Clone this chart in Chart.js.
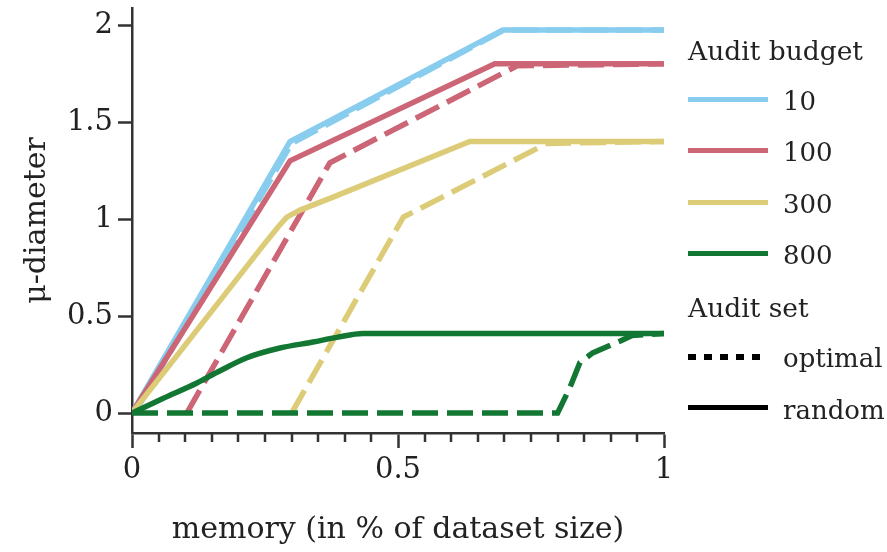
<!DOCTYPE html>
<html lang="en">

<head>
    <meta charset="utf-8">
    <title>mu-diameter vs memory</title>
    <script src="https://cdn.jsdelivr.net/npm/chart.js"></script>
    <style>
        body {
            margin: 0;
            background: #fff;
        }

        #wrap {
            position: relative;
            width: 887px;
            height: 552px;
            font-family: 'DejaVu Serif', serif;
            color: #222;
        }

        .ttl {
            position: absolute;
            left: 688px;
            font-size: 26.5px;
            line-height: 28px;
            white-space: nowrap;
        }

        .sw {
            position: absolute;
            left: 688px;
            width: 80px;
            height: 5px;
        }

        .lbl {
            position: absolute;
            left: 783px;
            font-size: 26px;
            line-height: 26px;
            white-space: nowrap;
        }
    </style>
</head>

<body>
    <div id="wrap">
        <canvas id="muChart" width="887" height="552"></canvas>
        <div id="legend"></div>
    </div>
    <script>
        // audit budgets and their colours
        const budgets = ['10', '100', '300', '800'];
        const colors = ['#88CCEE', '#CC6677', '#DDCC77', '#117733'];

        // random audit set (solid lines)
        const randX10 = [0, 0.297, 0.697, 1];
        const randY10 = [0, 1.40, 1.975, 1.975];
        const randX100 = [0, 0.297, 0.682, 1];
        const randY100 = [0, 1.30, 1.80, 1.80];
        const randX300 = [0, 0.254, 0.275, 0.291, 0.316, 0.378, 0.635, 1];
        const randY300 = [0, 0.89, 0.96, 1.01, 1.046, 1.113, 1.40, 1.40];
        const randX800 = [0, 0.058, 0.122, 0.16, 0.216, 0.278, 0.34, 0.385, 0.434, 1];
        const randY800 = [0, 0.075, 0.155, 0.21, 0.285, 0.335, 0.366, 0.39, 0.41, 0.41];

        // optimal audit set (dashed lines)
        const optX10 = [0.005, 0.30, 0.70, 1];
        const optY10 = [0, 1.39, 1.975, 1.975];
        const optX100 = [0.103, 0.372, 0.724, 1];
        const optY100 = [0, 1.29, 1.79, 1.80];
        const optX300 = [0.30, 0.51, 0.78, 1];
        const optY300 = [0, 1.01, 1.39, 1.40];
        const optX800 = [0, 0.80, 0.823, 0.842, 0.866, 0.917, 0.94, 1];
        const optY800 = [0, 0, 0.13, 0.26, 0.31, 0.37, 0.40, 0.41];

        const xTicks = [0, 0.5, 1];
        const yTicks = [0, 0.5, 1, 1.5, 2];

        const randX = [randX10, randX100, randX300, randX800];
        const randY = [randY10, randY100, randY300, randY800];
        const optX = [optX10, optX100, optX300, optX800];
        const optY = [optY10, optY100, optY300, optY800];

        const axisColor = '#333';
        const fontFamily = "'DejaVu Serif', serif";

        function pts(xs, ys) {
            return xs.map((x, i) => ({ x: x, y: ys[i] }));
        }

        const datasets = [];
        budgets.forEach((b, i) => {
            const smooth = b === '800';
            datasets.push({
                label: b + ' random',
                data: pts(randX[i], randY[i]),
                borderColor: colors[i],
                borderWidth: 5.5,
                pointRadius: 0,
                cubicInterpolationMode: smooth ? 'monotone' : 'default',
                tension: smooth ? 0.4 : 0,
                order: 20 - i * 2
            });
            datasets.push({
                label: b + ' optimal',
                data: pts(optX[i], optY[i]),
                borderColor: colors[i],
                borderWidth: 5.5,
                borderDash: [26, 9],
                pointRadius: 0,
                tension: 0,
                order: 19 - i * 2
            });
        });

        // short ticks every 0.05 on the x axis
        const minorTicks = {
            id: 'minorTicks',
            afterDraw(chart) {
                const xs = chart.scales.x;
                const ctx = chart.ctx;
                const y0 = chart.chartArea.bottom;
                ctx.save();
                ctx.strokeStyle = axisColor;
                ctx.lineWidth = 2.5;
                for (let i = 1; i < 20; i++) {
                    if (i === 10) continue;
                    const px = Math.round(xs.getPixelForValue(i * 0.05));
                    ctx.beginPath();
                    ctx.moveTo(px, y0);
                    ctx.lineTo(px, y0 + 9);
                    ctx.stroke();
                }
                ctx.restore();
            }
        };

        new Chart(document.getElementById('muChart'), {
            type: 'line',
            data: { datasets: datasets },
            options: {
                responsive: false,
                animation: false,
                devicePixelRatio: 1,
                layout: { padding: { top: 8, right: 223, left: 0, bottom: 0 } },
                plugins: { legend: { display: false }, tooltip: { enabled: false } },
                scales: {
                    x: {
                        type: 'linear',
                        min: 0,
                        max: 1,
                        afterFit: s => { s.height = 119; s.paddingLeft = 0; s.paddingRight = 0; },
                        afterBuildTicks: s => { s.ticks = xTicks.map(v => ({ value: v })); },
                        border: { display: true, color: axisColor, width: 2.5 },
                        grid: { drawOnChartArea: false, tickLength: 15, tickColor: axisColor, tickWidth: 2.5 },
                        ticks: {
                            padding: 5, color: '#222', font: { family: fontFamily, size: 29 }, maxRotation: 0,
                            callback: v => String(v)
                        },
                        title: {
                            display: true,
                            text: 'memory (in % of dataset size)',
                            color: '#222',
                            font: { family: fontFamily, size: 30 },
                            padding: { top: 0, bottom: 4 }
                        }
                    },
                    y: {
                        min: -0.103,
                        max: 2.088,
                        afterFit: s => { s.width = 132; s.paddingTop = 0; s.paddingBottom = 0; },
                        afterBuildTicks: s => { s.ticks = yTicks.map(v => ({ value: v })); },
                        border: { display: true, color: axisColor, width: 2.5 },
                        grid: { drawOnChartArea: false, tickLength: 14, tickColor: axisColor, tickWidth: 2.5 },
                        ticks: {
                            padding: 5, color: '#222', font: { family: fontFamily, size: 29 },
                            callback: v => String(v)
                        },
                        title: {
                            display: true,
                            text: 'μ-diameter',
                            color: '#222',
                            font: { family: fontFamily, size: 30 },
                            padding: { top: 19, bottom: 0 }
                        }
                    }
                }
            },
            plugins: [minorTicks]
        });

        // grouped legend on the right
        const legend = document.getElementById('legend');
        function add(cls, top, text, style) {
            const d = document.createElement('div');
            d.className = cls;
            d.style.top = top + 'px';
            if (text) d.textContent = text;
            if (style) Object.assign(d.style, style);
            legend.appendChild(d);
        }
        add('ttl', 37, 'Audit budget');
        const rowY = [99, 150, 202, 253];
        budgets.forEach((b, i) => {
            add('sw', rowY[i] - 2.5, '', { background: colors[i] });
            add('lbl', rowY[i] - 11, b);
        });
        add('ttl', 294, 'Audit set');
        add('sw', 354, '', { height: '6px', width: '72px', background: 'repeating-linear-gradient(to right, #000 0 8px, transparent 8px 16px)' });
        add('lbl', 345, 'optimal');
        add('sw', 405, '', { height: '5px', background: '#000' });
        add('lbl', 397, 'random');
    </script>
</body>

</html>
